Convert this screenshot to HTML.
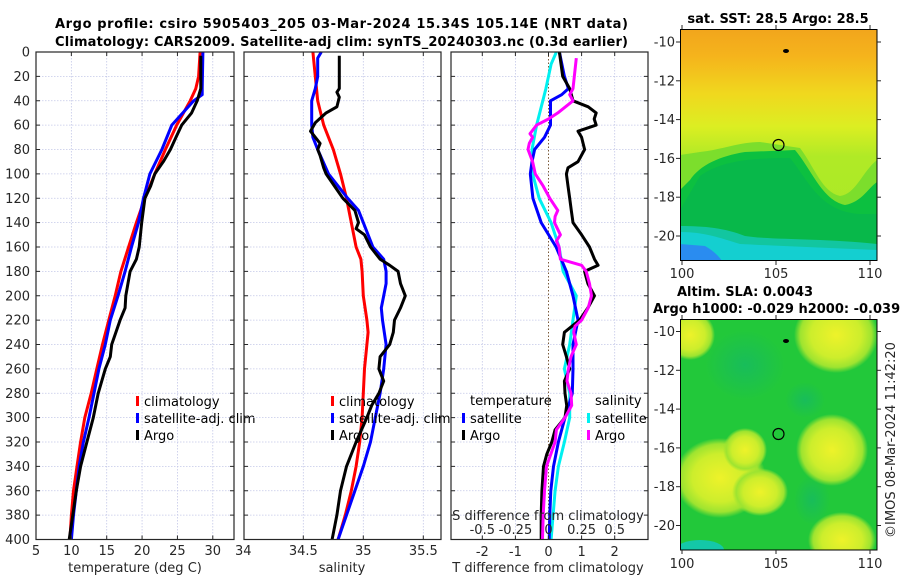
<!DOCTYPE html>
<html><head><meta charset="utf-8">
<style>
html,body{margin:0;padding:0;background:#fff;}
svg{display:block;font-family:"DejaVu Sans","Liberation Sans",sans-serif;}
.tk{font-size:13px;fill:#262626;}
.ttl{font-size:13px;font-weight:bold;fill:#000;}
.lg{font-size:13px;fill:#000;}
</style></head>
<body>
<svg id="fig" width="900" height="580" viewBox="0 0 900 580" xmlns="http://www.w3.org/2000/svg">
<defs>
<linearGradient id="sstg" x1="0" y1="0" x2="0" y2="1">
<stop offset="0" stop-color="#f2a51c"/><stop offset="0.12" stop-color="#f5b41c"/><stop offset="0.28" stop-color="#f0d81e"/><stop offset="0.42" stop-color="#dcee22"/><stop offset="0.55" stop-color="#b0ea26"/><stop offset="1" stop-color="#a8e828"/>
</linearGradient>
<radialGradient id="blob"><stop offset="0" stop-color="#eef22a"/><stop offset="0.6" stop-color="#cdee2c"/><stop offset="0.85" stop-color="#9ee430"/><stop offset="1" stop-color="#9ee430" stop-opacity="0"/></radialGradient>
<radialGradient id="teal"><stop offset="0" stop-color="#14b868" stop-opacity="0.7"/><stop offset="1" stop-color="#14b868" stop-opacity="0"/></radialGradient>
<clipPath id="c1"><rect x="680" y="29" width="197" height="232"/></clipPath>
<clipPath id="c2"><rect x="680" y="319" width="197" height="231"/></clipPath>
</defs>
<text class="ttl" x="55" y="28" textLength="573">Argo profile: csiro 5905403_205 03-Mar-2024 15.34S 105.14E (NRT data)</text>
<text class="ttl" x="55" y="46" textLength="573">Climatology: CARS2009. Satellite-adj clim: synTS_20240303.nc (0.3d earlier)</text>

<g id="p1"></g>
<g id="p2"></g>
<g id="p3"></g>

<!-- SST map -->
<g>
<text class="ttl" x="778" y="23" text-anchor="middle">sat. SST: 28.5 Argo: 28.5</text>
<g clip-path="url(#c1)">
<rect x="680" y="29" width="197" height="232" fill="url(#sstg)"/>
<path d="M680,155 L700,152 C720,150 740,142 760,142 L800,148 C815,168 822,192 840,196 C856,194 862,172 877,160 L877,261 L680,261Z" fill="#7cde2c"/>
<path d="M680,190 L690,180 C700,165 720,156 745,152 L795,150 C812,170 822,200 845,205 C862,202 868,188 877,182 L877,261 L680,261Z" fill="#0cc040"/>
<path d="M700,176 C720,162 745,158 790,158 C808,180 820,212 860,214 L877,214 L877,261 L680,261 L680,210Z" fill="#08b84a"/>
<path d="M680,226 C705,226 725,228 745,236 C770,240 820,238 877,244 L877,261 L680,261Z" fill="#12c6a0"/>
<path d="M680,232 C705,232 720,238 740,244 C780,246 830,248 877,250 L877,261 L680,261Z" fill="#14cfd0"/>
<path d="M680,244 L705,246 C712,250 718,255 722,261 L680,261Z" fill="#2a8cf0"/>
</g>
<ellipse cx="786" cy="51" rx="3" ry="2" fill="#000"/>
<circle cx="778.5" cy="145" r="5.5" fill="none" stroke="#000" stroke-width="1.2"/>
<rect x="680.5" y="29.5" width="196.5" height="231" fill="none" stroke="#000" stroke-width="1"/>
</g>

<!-- SLA map -->
<g>
<text class="ttl" x="677" y="296">Altim. SLA: 0.0043</text>
<text class="ttl" x="653" y="313">Argo h1000: -0.029 h2000: -0.039</text>
<g clip-path="url(#c2)">
<rect x="680" y="319" width="197" height="231" fill="#22c83a"/>
<ellipse cx="745" cy="365" rx="40" ry="35" fill="url(#teal)"/>
<ellipse cx="805" cy="400" rx="20" ry="18" fill="url(#teal)"/>
<ellipse cx="812" cy="500" rx="18" ry="25" fill="url(#teal)"/>
<ellipse cx="836" cy="335" rx="42" ry="38" fill="url(#blob)"/>
<ellipse cx="690" cy="335" rx="25" ry="25" fill="url(#blob)"/>
<ellipse cx="832" cy="450" rx="36" ry="36" fill="url(#blob)"/>
<ellipse cx="720" cy="478" rx="46" ry="40" fill="url(#blob)"/>
<ellipse cx="760" cy="492" rx="28" ry="24" fill="url(#blob)"/>
<ellipse cx="745" cy="450" rx="22" ry="22" fill="url(#blob)"/>
<ellipse cx="842" cy="540" rx="34" ry="28" fill="url(#blob)"/>
<ellipse cx="700" cy="550" rx="24" ry="10" fill="#14c8a8"/>
</g>
<ellipse cx="786" cy="341" rx="3" ry="2" fill="#000"/>
<circle cx="778.5" cy="434" r="5.5" fill="none" stroke="#000" stroke-width="1.2"/>
<rect x="680.5" y="319.5" width="196.5" height="230.5" fill="none" stroke="#000" stroke-width="1"/>
</g>
<text class="tk" transform="translate(895,440) rotate(-90)" text-anchor="middle">©IMOS 08-Mar-2024 11:42:20</text>

<script>
// ---- data (depth in m) ----
const climDepth=[0,20,30,40,60,80,100,120,140,160,180,200,220,240,260,280,300,320,340,360,380,400];
const climTemp=[28.2,28.0,27.6,26.8,24.9,23.3,21.8,20.4,19.2,18.1,17.0,16.2,15.3,14.4,13.6,12.8,11.9,11.3,10.8,10.3,10.0,9.8];
const satDepth=[0,30,35,40,60,80,100,120,140,160,180,200,220,240,260,280,300,320,340,360,380,400];
const satTemp=[28.6,28.5,28.5,27.3,24.2,22.8,21.1,20.2,19.5,18.5,17.6,16.6,15.5,14.8,13.9,13.2,12.5,11.7,11.1,10.7,10.3,10.0];
const argoDepth=[3,30,40,50,60,70,80,90,100,110,120,140,160,170,180,200,210,220,240,250,260,280,300,320,340,360,380,400];
const argoTemp=[28.3,28.3,27.8,27.0,25.6,24.8,24.0,23.0,21.8,21.2,20.4,19.95,19.6,19.2,18.3,17.7,17.6,16.9,15.7,15.5,14.8,13.8,13.1,12.2,11.3,10.7,10.2,9.7];

const climSDepth=[0,40,60,70,80,100,120,140,160,170,180,200,220,230,240,260,280,300,320,340,360,380,400];
const climSal=[34.58,34.62,34.67,34.71,34.75,34.81,34.86,34.90,34.94,34.98,34.99,35.0,35.03,35.04,35.03,35.01,35.0,34.99,34.97,34.94,34.90,34.85,34.79];
const satSDepth=[0,5,20,30,40,60,70,80,100,110,120,130,140,150,160,170,180,190,200,210,220,240,260,280,300,320,340,360,380,400];
const satSal=[34.65,34.62,34.62,34.60,34.57,34.57,34.58,34.62,34.71,34.79,34.87,34.96,35.0,35.04,35.08,35.17,35.19,35.19,35.17,35.15,35.16,35.19,35.17,35.14,35.10,35.06,35.0,34.93,34.86,34.79];
const argoSDepth=[3,30,33,37,45,50,58,65,70,75,80,85,95,100,110,120,130,140,145,150,160,170,175,180,190,200,210,220,230,240,250,260,270,280,290,300,320,340,360,380,400];
const argoSal=[34.8,34.8,34.78,34.8,34.78,34.69,34.6,34.56,34.6,34.64,34.62,34.64,34.67,34.69,34.76,34.83,34.93,34.96,34.94,35.01,35.06,35.14,35.22,35.29,35.31,35.35,35.31,35.26,35.25,35.22,35.14,35.13,35.17,35.13,35.07,35.03,34.94,34.86,34.81,34.78,34.74];

const dTSatDepth=[0,20,30,35,40,60,70,80,90,100,120,140,160,180,200,220,240,260,280,300,320,340,360,380,400];
const dTSat=[0.33,0.48,0.6,0.4,0.06,0.06,-0.12,-0.42,-0.5,-0.55,-0.47,-0.22,0.23,0.54,0.74,0.89,0.74,0.74,0.72,0.5,0.3,0.15,0.07,0.04,0.02];
const dTArgoDepth=[0,20,30,40,45,50,55,60,65,70,80,90,95,100,110,120,130,140,150,160,170,175,180,185,190,200,210,220,230,240,250,260,270,280,290,300,310,320,330,340,360,380,400];
const dTArgo=[0.33,0.43,0.64,0.74,1.2,1.44,1.38,1.44,0.89,1.0,1.09,0.89,0.59,0.54,0.59,0.64,0.69,0.74,1.0,1.24,1.39,1.5,1.09,1.14,1.19,1.39,1.19,0.94,0.48,0.43,0.54,0.64,0.48,0.5,0.55,0.5,0.2,0.1,-0.05,-0.15,-0.2,-0.22,-0.22];
const dSSatDepth=[0,10,30,60,80,100,120,140,160,180,200,220,240,260,280,300,320,340,360,380,400];
const dSSat=[0.06,0.02,-0.02,-0.09,-0.125,-0.12,-0.07,0.02,0.08,0.11,0.21,0.185,0.16,0.12,0.16,0.16,0.12,0.075,0.05,0.035,0.02];
const dSArgoDepth=[5,30,35,40,50,55,60,67,70,75,80,90,100,110,120,130,135,140,150,155,160,170,175,180,190,200,210,220,225,230,240,250,260,270,280,290,300,310,320,340,360,380,400];
const dSArgo=[0.21,0.185,0.16,0.185,0.07,0.0,-0.09,-0.14,-0.12,-0.145,-0.155,-0.12,-0.1,-0.04,0.01,0.07,0.05,0.045,0.09,0.06,0.08,0.09,0.25,0.285,0.31,0.325,0.3,0.25,0.2,0.19,0.21,0.17,0.15,0.14,0.17,0.175,0.125,0.06,0.05,-0.015,-0.03,-0.04,-0.045];

const depthTicks=[0,20,40,60,80,100,120,140,160,180,200,220,240,260,280,300,320,340,360,380,400];
const tempTicks=[5,10,15,20,25,30];
const salTicks=[34,34.5,35,35.5];
const salTickLabels=["34","34.5","35","35.5"];
const dTTicks=[-2,-1,0,1,2];
const dSTicks=[-0.5,-0.25,0,0.25,0.5];
const dSTickLabels=["-0.5","-0.25","0","0.25","0.5"];
const lonTicks=[100,105,110];
const latTicks=[-10,-12,-14,-16,-18,-20];

// ---- scales ----
const NS="http://www.w3.org/2000/svg";
const Y0=52, Y1=539.5;
function yD(d){return Y0+d*(Y1-Y0)/400;}
function xT(t){return 36+(t-5)*198/28;}
function xS(s){return 243.3+(s-34)*120;}
function xDT(v){return 548.5+v*33.1;}
function xDS(v){return 548.5+v*4*33.1;}
function lonX(l){return 682+(l-100)*18.8;}
function latY1(l){return 42+(-10-l)*19.4;}
function latY2(l){return 331.5+(-10-l)*19.4;}

function el(tag,attrs,parent){const e=document.createElementNS(NS,tag);for(const k in attrs)e.setAttribute(k,attrs[k]);parent.appendChild(e);return e;}
function txt(parent,x,y,s,cls,anchor){const t=el('text',{x:x,y:y,'class':cls,'text-anchor':anchor||'start'},parent);t.textContent=s;return t;}

function frame(g,x0,x1,xs,xticks){
  depthTicks.forEach(d=>{el('line',{x1:x0,x2:x1,y1:yD(d),y2:yD(d),stroke:'#c4c8e8','stroke-width':0.8,'stroke-dasharray':'1.5,1.5'},g);});
  xticks.forEach(v=>{el('line',{x1:xs(v),x2:xs(v),y1:Y0,y2:Y1,stroke:'#c4c8e8','stroke-width':0.8,'stroke-dasharray':'1.5,1.5'},g);});
}
function border(g,x0,x1,xs,xticks){
  el('rect',{x:x0,y:Y0,width:x1-x0,height:Y1-Y0,fill:'none',stroke:'#262626','stroke-width':1.2},g);
  depthTicks.forEach(d=>{
    el('line',{x1:x0,x2:x0+4,y1:yD(d),y2:yD(d),stroke:'#262626'},g);
    el('line',{x1:x1-4,x2:x1,y1:yD(d),y2:yD(d),stroke:'#262626'},g);
  });
  xticks.forEach(v=>{
    el('line',{x1:xs(v),x2:xs(v),y1:Y1-4,y2:Y1,stroke:'#262626'},g);
    el('line',{x1:xs(v),x2:xs(v),y1:Y0,y2:Y0+4,stroke:'#262626'},g);
  });
}
function series(g,depths,vals,xs,color,name){
  const d=vals.map((v,i)=>(i?'L':'M')+xs(v).toFixed(1)+','+yD(depths[i]).toFixed(1)).join(' ');
  const p=el('path',{d:d,fill:'none',stroke:color,'stroke-width':3,'stroke-linejoin':'round'},g);
  
  
  return p;
}
function legendEntry(g,x,y,color,label,name){
  const lg=el('g',{},g);
  
  
  el('rect',{x:x,y:y-10,width:3,height:10,fill:color},lg);
  txt(lg,x+8,y,label,'lg');
}

// Panel 1
const p1=document.getElementById('p1');
frame(p1,36,234,xT,tempTicks);
series(p1,climDepth,climTemp,xT,'#ff0000','temp-climatology-line');
series(p1,satDepth,satTemp,xT,'#0000ff','temp-satellite-line');
series(p1,argoDepth,argoTemp,xT,'#000000','temp-argo-line');
border(p1,36,234,xT,tempTicks);
depthTicks.forEach(d=>{const t=txt(p1,30,yD(d)+4.5,String(d),'tk','end');});
tempTicks.forEach(v=>{const t=txt(p1,xT(v),555,String(v),'tk','middle');});
const a1=txt(p1,135,572,'temperature (deg C)','tk','middle');

legendEntry(p1,136,406,'#ff0000','climatology','legend-climatology');
legendEntry(p1,136,423,'#0000ff','satellite-adj. clim','legend-satellite-adj');
legendEntry(p1,136,440,'#000000','Argo','legend-argo');

// Panel 2
const p2=document.getElementById('p2');
frame(p2,244,441,xS,salTicks.slice(1));
series(p2,climSDepth,climSal,xS,'#ff0000','sal-climatology-line');
series(p2,satSDepth,satSal,xS,'#0000ff','sal-satellite-line');
series(p2,argoSDepth,argoSal,xS,'#000000','sal-argo-line');
border(p2,244,441,xS,salTicks.slice(1));
salTicks.forEach((v,i)=>{const t=txt(p2,xS(v),555,salTickLabels[i],'tk','middle');});
const a2=txt(p2,342,572,'salinity','tk','middle');

legendEntry(p2,331,406,'#ff0000','climatology','legend-climatology');
legendEntry(p2,331,423,'#0000ff','satellite-adj. clim','legend-satellite-adj');
legendEntry(p2,331,440,'#000000','Argo','legend-argo');

// Panel 3
const p3=document.getElementById('p3');
frame(p3,451,648,xDT,[-2,-1,1,2]);
el('line',{x1:xDT(0),x2:xDT(0),y1:Y0,y2:Y1,stroke:'#7a5a3a','stroke-width':1,'stroke-dasharray':'1.5,2'},p3);
series(p3,dSSatDepth,dSSat,xDS,'#00f0f0','sdiff-satellite-line');
series(p3,dTSatDepth,dTSat,xDT,'#0000ff','tdiff-satellite-line');
series(p3,dTArgoDepth,dTArgo,xDT,'#000000','tdiff-argo-line');
series(p3,dSArgoDepth,dSArgo,xDS,'#ff00ff','sdiff-argo-line');
border(p3,451,648,xDT,dTTicks);
dTTicks.forEach(v=>{const t=txt(p3,xDT(v),556,String(v),'tk','middle');});
const a3=txt(p3,548,572,'T difference from climatology','tk','middle');

const a4=txt(p3,548,520,'S difference from climatology','tk','middle');

dSTicks.forEach((v,i)=>{const t=txt(p3,xDS(v),534,dSTickLabels[i],'tk','middle');});
const lt=txt(p3,470,405,'temperature','lg');
const ls=txt(p3,595,405,'salinity','lg');
legendEntry(p3,462,423,'#0000ff','satellite','legend-t-satellite');
legendEntry(p3,462,440,'#000000','Argo','legend-t-argo');
legendEntry(p3,587,423,'#00f0f0','satellite','legend-s-satellite');
legendEntry(p3,587,440,'#ff00ff','Argo','legend-s-argo');

// Map axes
const fig=document.getElementById('fig');
[[29,261,latY1,278],[319,550,latY2,568]].forEach(([top,bot,ly,lblY])=>{
  const g=el('g',{},fig);
  
  
  lonTicks.forEach(l=>{
    el('line',{x1:lonX(l),x2:lonX(l),y1:bot,y2:bot+4,stroke:'#262626'},g);
    el('line',{x1:lonX(l),x2:lonX(l),y1:top-4,y2:top,stroke:'#262626'},g);
    const t=txt(g,lonX(l),lblY,String(l),'tk','middle');
    
    
  });
  latTicks.forEach(l=>{
    el('line',{x1:676,x2:680,y1:ly(l),y2:ly(l),stroke:'#262626'},g);
    el('line',{x1:877,x2:881,y1:ly(l),y2:ly(l),stroke:'#262626'},g);
    const t=txt(g,675,ly(l)+4.5,String(l),'tk','end');
    
    
  });
});
</script>
</svg>
</body></html>
